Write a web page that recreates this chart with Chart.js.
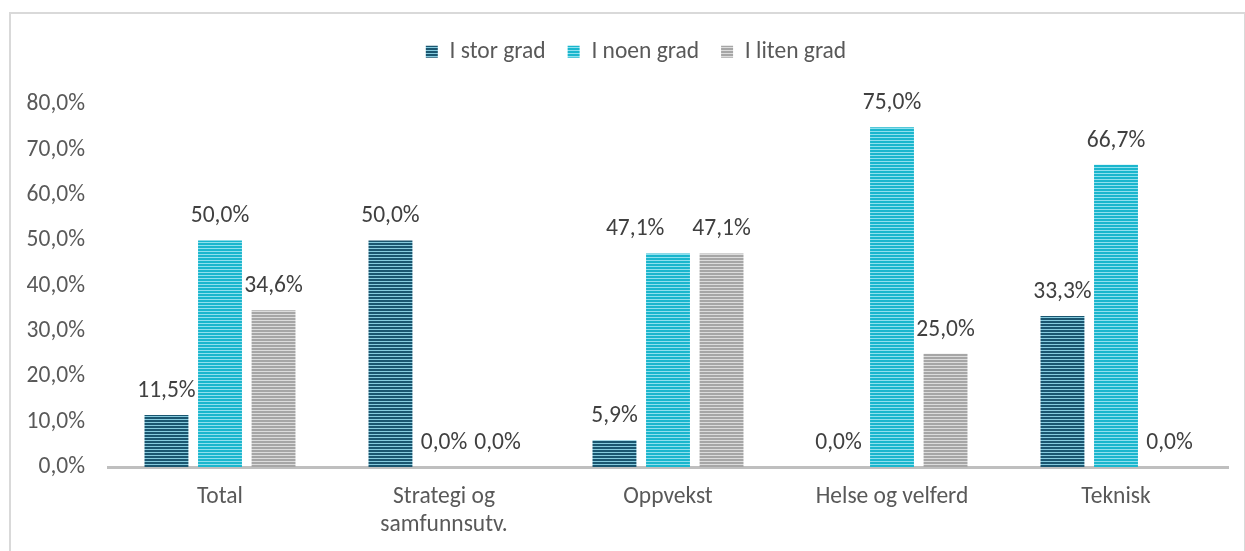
<!DOCTYPE html>
<html>
<head>
<meta charset="utf-8">
<script src="https://cdn.jsdelivr.net/npm/chart.js@4"></script>
<style>
	body { margin: 0; background: #fff; }
	#frame { position: absolute; left: 9px; top: 12px; width: 1233px; height: 560px; border: 2px solid #d9d9d9; }
	#wrap { position: absolute; left: 0; top: 0; width: 1245px; height: 551px; }
</style>
</head>
<body>
<div id="frame"></div>
<div id="wrap"><canvas id="chart"></canvas></div>
<script>
const categories = ['Total', ['Strategi og', 'samfunnsutv.'], 'Oppvekst', 'Helse og velferd', 'Teknisk'];
const seriesNames = ['I stor grad', 'I noen grad', 'I liten grad'];
const storGrad = [11.5, 50.0, 5.9, 0.0, 33.3];
const noenGrad = [50.0, 0.0, 47.1, 75.0, 66.7];
const litenGrad = [34.6, 0.0, 47.1, 25.0, 0.0];
const yTicks = [0, 10, 20, 30, 40, 50, 60, 70, 80];

const fontFamily = 'Carlito, "Open Sans", "Noto Sans", sans-serif';
const fontSize = 23.5;
const textColor = '#595959';

// stripete fyll, som Excel sitt horisontale mønster
function stripes(base, light) {
	const c = document.createElement('canvas');
	c.width = 4; c.height = 3;
	const ctx = c.getContext('2d');
	ctx.fillStyle = base;
	ctx.fillRect(0, 0, 4, 3);
	ctx.fillStyle = light;
	ctx.fillRect(0, 2, 4, 1);
	return ctx.createPattern(c, 'repeat');
}

const fmt = v => v.toFixed(1).replace('.', ',') + '%';

// verdietiketter over søylene; flytter en etikett til venstre hvis den kolliderer med naboen
const valueLabels = {
	id: 'valueLabels',
	afterLayout(chart) {
		// forklaringen står litt til høyre, som i Excel
		chart.legend.left += 44;
	},
	afterDatasetsDraw(chart) {
		const ctx = chart.ctx;
		ctx.save();
		ctx.font = fontSize + 'px ' + fontFamily;
		ctx.fillStyle = '#404040';
		ctx.textAlign = 'center';
		ctx.textBaseline = 'middle';
		const n = chart.data.datasets.length;
		chart.data.labels.forEach((_, j) => {
			const items = [];
			for (let i = 0; i < n; i++) {
				const bar = chart.getDatasetMeta(i).data[j];
				const text = fmt(chart.data.datasets[i].data[j]);
				items.push({ text, x: bar.x, y: bar.y - 24, w: ctx.measureText(text).width });
			}
			for (let i = n - 2; i >= 0; i--) {
				const a = items[i], b = items[i + 1];
				if (Math.abs(a.y - b.y) < fontSize && b.x - a.x < (a.w + b.w) / 2 + 4) {
					a.x = b.x - (a.w + b.w) / 2 - 28;
				}
			}
			items.forEach(it => ctx.fillText(it.text, it.x, it.y));
		});
		ctx.restore();
	}
};

new Chart(document.getElementById('chart'), {
	type: 'bar',
	data: {
		labels: categories,
		datasets: [
			{ label: seriesNames[0], data: storGrad, backgroundColor: stripes('#1a5670', '#86cbde') },
			{ label: seriesNames[1], data: noenGrad, backgroundColor: stripes('#1ab6cd', '#8fe0ee') },
			{ label: seriesNames[2], data: litenGrad, backgroundColor: stripes('#a6a6a6', '#dcdcdc') }
		]
	},
	options: {
		responsive: true,
		maintainAspectRatio: false,
		animation: false,
		layout: { padding: { top: 18, right: 17, left: 0, bottom: 0 } },
		datasets: { bar: { categoryPercentage: 0.717, barPercentage: 0.82 } },
		scales: {
			x: {
				grid: { display: false, drawTicks: false },
				border: { color: '#bfbfbf', width: 3 },
				ticks: { color: textColor, padding: 16, font: { family: fontFamily, size: fontSize, lineHeight: 1.2 } },
				afterFit: s => { s.height = 84; }
			},
			// tom akse som gir luft mellom forklaring og plottet
			gap: {
				type: 'category',
				position: 'top',
				grid: { display: false, drawTicks: false },
				border: { display: false },
				ticks: { display: false },
				afterFit: s => { s.height = 31; }
			},
			y: {
				min: 0, max: 80,
				afterBuildTicks: s => { s.ticks = yTicks.map(v => ({ value: v })); },
				grid: { display: false, drawTicks: false },
				border: { display: false },
				ticks: { color: textColor, padding: 23, callback: v => fmt(v), font: { family: fontFamily, size: fontSize } },
				afterFit: s => { s.width = 108; }
			}
		},
		plugins: {
			legend: {
				position: 'top',
				labels: { boxWidth: 12, boxHeight: 12, padding: 22, color: textColor, font: { family: fontFamily, size: fontSize } }
			},
			tooltip: { enabled: false }
		}
	},
	plugins: [valueLabels]
});
</script>
</body>
</html>
